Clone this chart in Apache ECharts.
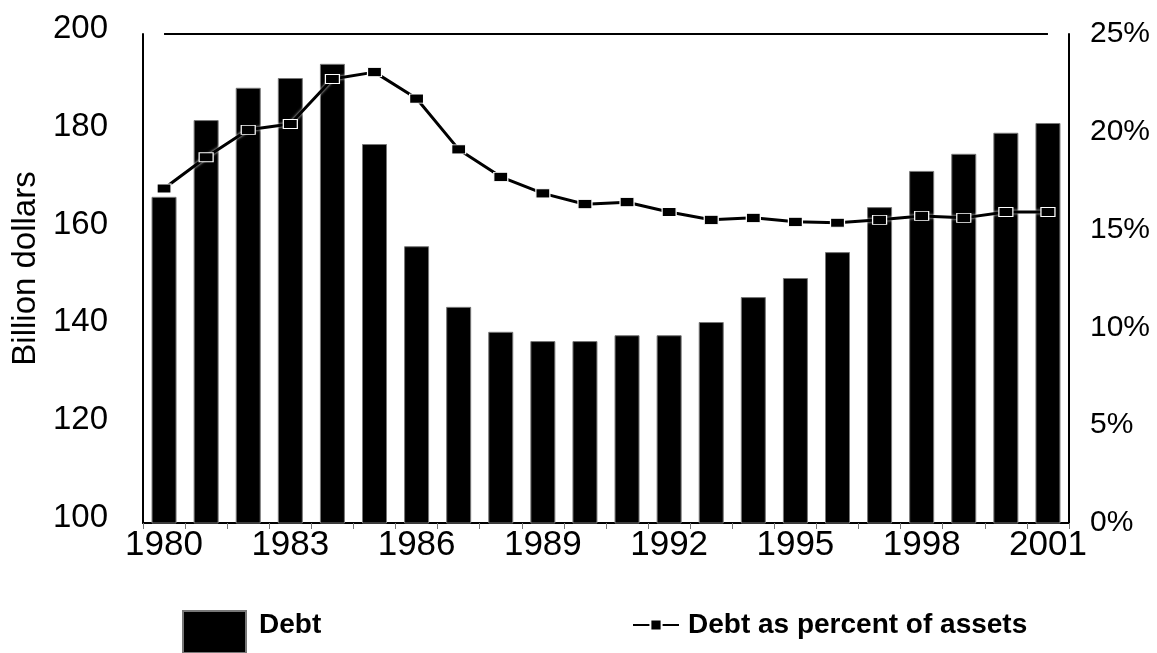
<!DOCTYPE html>
<html>
<head>
<meta charset="utf-8">
<script src="https://cdn.jsdelivr.net/npm/echarts@6/dist/echarts.min.js"></script>
<style>
  html, body { margin: 0; padding: 0; background: #fff; }
  #chart { width: 1157px; height: 653px; }
</style>
</head>
<body>
<div id="chart"></div>
<script>
// years on the x axis
var years = ["1980","1981","1982","1983","1984","1985","1986","1987","1988","1989","1990",
             "1991","1992","1993","1994","1995","1996","1997","1998","1999","2000","2001"];
// debt, billion dollars (left axis)
var debt = [166.7, 182.4, 189.0, 191.0, 193.9, 177.5, 156.6, 144.2, 139.1, 137.2, 137.2,
            138.4, 138.4, 141.1, 146.2, 150.1, 155.4, 164.6, 172.0, 175.5, 179.8, 181.8];
// debt as percent of assets (right axis)
var debtPct = [17.1, 18.7, 20.1, 20.4, 22.7, 23.05, 21.7, 19.1, 17.7, 16.85, 16.3,
               16.4, 15.9, 15.5, 15.6, 15.4, 15.35, 15.5, 15.7, 15.6, 15.9, 15.9];

var chart = echarts.init(document.getElementById("chart"));
var font = "Liberation Sans, Arial, sans-serif";

var option = {
  backgroundColor: "#fff",
  animation: false,
  textStyle: { fontFamily: font, color: "#000" },
  grid: { left: 143, right: 88, top: 34, bottom: 130 },
  legend: [
    {
      data: [{ name: "Debt", icon: "rect" }],
      left: 177, top: 605,
      itemWidth: 63, itemHeight: 42,
      formatter: "{t|{name}}",
      textStyle: {
        fontSize: 28, fontWeight: "bold", color: "#000",
        rich: { t: { fontSize: 28, fontWeight: "bold", color: "#000", padding: [0, 0, 14, 8] } }
      }
    },
    {
      data: ["Debt as percent of assets"],
      left: 627, top: 606,
      itemWidth: 46, itemHeight: 14,
      textStyle: { fontSize: 28, fontWeight: "bold", color: "#000", padding: [0, 0, 0, 4] }
    }
  ],
  xAxis: {
    type: "category",
    data: years,
    axisLine: { lineStyle: { color: "#000", width: 2 } },
    axisTick: { show: true, interval: 0, length: 6, lineStyle: { color: "#777" } },
    axisLabel: { interval: 2, fontSize: 35, color: "#000", margin: 5 }
  },
  yAxis: [
    {
      type: "value",
      min: 100, max: 200, interval: 20,
      name: "Billion dollars",
      nameLocation: "middle",
      nameGap: 100,
      nameTextStyle: { fontSize: 33, color: "#000", padding: [0, 0, 0, 20] },
      axisLine: { show: true, lineStyle: { color: "#000", width: 2 } },
      axisTick: { show: false },
      splitLine: { show: false },
      axisLabel: {
        fontSize: 33, color: "#000", margin: 35,
        verticalAlign: "bottom", lineHeight: 10
      }
    },
    {
      type: "value",
      min: 0, max: 25, interval: 5,
      position: "right",
      axisLine: { show: true, lineStyle: { color: "#000", width: 2 } },
      axisTick: { show: false },
      splitLine: { show: false },
      axisLabel: { fontSize: 30, color: "#000", margin: 21, formatter: "{value}%" }
    }
  ],
  series: [
    {
      name: "Debt",
      type: "bar",
      yAxisIndex: 0,
      data: debt,
      barWidth: 25,
      itemStyle: { color: "#000", borderColor: "#777", borderWidth: 1 },
      markLine: {
        silent: true,
        symbol: "none",
        label: { show: false },
        lineStyle: { color: "#000", width: 2, type: "solid" },
        data: [[{ coord: ["1980", 200] }, { coord: ["2001", 200] }]]
      }
    },
    {
      name: "Debt as percent of assets",
      type: "line",
      yAxisIndex: 1,
      data: debtPct,
      symbol: "rect",
      symbolSize: [14, 9],
      showSymbol: true,
      lineStyle: { color: "#000", width: 3, shadowColor: "rgba(255,255,255,0.9)", shadowBlur: 3 },
      itemStyle: { color: "#000", borderColor: "#fff", borderWidth: 1 },
      z: 5
    }
  ]
};

chart.setOption(option);
</script>
</body>
</html>
